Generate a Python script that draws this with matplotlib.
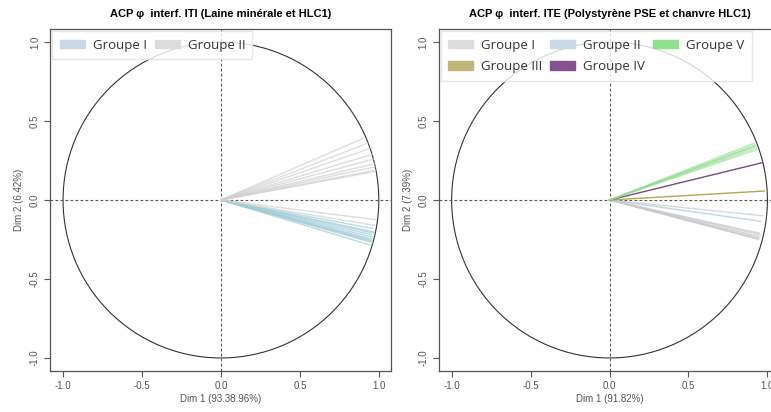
import numpy as np
import matplotlib.pyplot as plt
from matplotlib.patches import Patch, Circle

# ACP interf. ITI : extrémités des vecteurs (Dim 1, Dim 2)
iti_g1_x = [0.96, 0.965, 0.97, 0.955, 0.96, 0.95, 0.955, 0.95, 0.96, 0.945]
iti_g1_y = [-0.18, -0.20, -0.21, -0.22, -0.235, -0.245, -0.255, -0.26, -0.27, -0.285]
iti_g2_x = [0.90, 0.93, 0.955, 0.96, 0.97, 0.975, 0.975, 0.98, 0.975, 0.985, 0.97]
iti_g2_y = [0.39, 0.36, 0.33, 0.29, 0.26, 0.23, 0.21, 0.19, 0.18, -0.125, -0.16]

# ACP interf. ITE
ite_g1_x = [0.975, 0.95, 0.955, 0.945, 0.95, 0.94, 0.945]
ite_g1_y = [-0.10, -0.21, -0.22, -0.23, -0.24, -0.245, -0.25]
ite_g2_x = [0.96]
ite_g2_y = [-0.135]
ite_g3_x = [0.98]
ite_g3_y = [0.057]
ite_g4_x = [0.97]
ite_g4_y = [0.237]
ite_g5_x = [0.935, 0.93, 0.925, 0.92, 0.915, 0.93]
ite_g5_y = [0.32, 0.33, 0.34, 0.35, 0.36, 0.345]

TXT = "#555555"
TICKS = [-1.0, -0.5, 0.0, 0.5, 1.0]


def panel(ax, groups, order, title, xlab, ylab, ncol):
    ax.add_patch(Circle((0, 0), 1, fill=False, ec="#333333", lw=0.8))
    ax.axhline(0, color="#555555", ls=(0, (2.5, 2)), lw=0.8)
    ax.axvline(0, color="#555555", ls=(0, (2.5, 2)), lw=0.8)
    handles = []
    for name, xs, ys, lcol, pcol, a in groups:
        for x, y in zip(xs, ys):
            ax.plot([0, x], [0, y], color=lcol, lw=1.0, alpha=a)
        handles.append(Patch(color=pcol, label=name))
    handles = [handles[i] for i in order]
    ax.set_xlim(-1.08, 1.08)
    ax.set_ylim(-1.08, 1.08)
    ax.set_xticks(TICKS)
    ax.set_yticks(TICKS)
    ax.tick_params(colors="#555555", labelcolor=TXT, labelsize=7, length=4, width=0.8)
    for lab in ax.get_yticklabels():
        lab.set_rotation(90)
        lab.set_va("center")
    for s in ax.spines.values():
        s.set_color("#555555")
        s.set_linewidth(0.9)
    ax.set_xlabel(xlab, fontsize=7, color=TXT, labelpad=2)
    ax.set_ylabel(ylab, fontsize=7, color=TXT, labelpad=4)
    ax.set_title(title, fontsize=8, fontweight="bold", pad=9)
    leg = ax.legend(handles=handles, loc="upper left", ncol=ncol,
                    frameon=True, fancybox=False, edgecolor="#e2e2e2",
                    borderaxespad=0.15, handlelength=1.9, handleheight=0.65,
                    columnspacing=0.6, handletextpad=0.6, borderpad=0.55,
                    labelspacing=0.65, prop={"family": ["Open Sans", "DejaVu Sans"], "size": 9.5})
    for t in leg.get_texts():
        t.set_color("#333333")


plt.rcParams["font.family"] = ["Liberation Sans", "DejaVu Sans"]
plt.rcParams["axes.unicode_minus"] = False
fig = plt.figure(figsize=(7.71, 4.12), dpi=100)
ax1 = fig.add_axes([0.0654, 0.1005, 0.4423, 0.828])
ax2 = fig.add_axes([0.5694, 0.1005, 0.4423, 0.828])

panel(ax1,
      [("Groupe I", iti_g1_x, iti_g1_y, "#9fcbd6", "#c9d8e2", 0.7),
       ("Groupe II", iti_g2_x, iti_g2_y, "#cfcfcf", "#dcdcdc", 0.7)],
      [0, 1],
      "ACP φ  interf. ITI (Laine minérale et HLC1)",
      "Dim 1 (93.38.96%)", "Dim 2 (6.42%)", 2)

panel(ax2,
      [("Groupe I", ite_g1_x, ite_g1_y, "#c8c8c8", "#dcdcdc", 0.7),
       ("Groupe II", ite_g2_x, ite_g2_y, "#b9d3e0", "#c9d8e2", 0.9),
       ("Groupe III", ite_g3_x, ite_g3_y, "#b0aa50", "#bdb57a", 1.0),
       ("Groupe IV", ite_g4_x, ite_g4_y, "#7a4a86", "#865190", 1.0),
       ("Groupe V", ite_g5_x, ite_g5_y, "#8fdc8f", "#8fe08f", 0.6)],
      [0, 2, 1, 3, 4],
      "ACP φ  interf. ITE (Polystyrène PSE et chanvre HLC1)",
      "Dim 1 (91.82%)", "Dim 2 (7.39%)", 3)

fig.savefig("out.png", dpi=100)
